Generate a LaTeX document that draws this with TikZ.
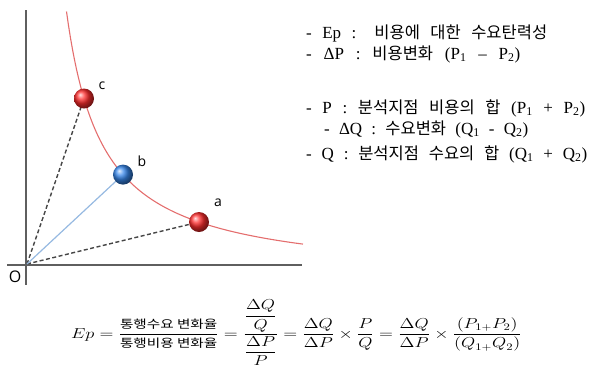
\documentclass[tikz,border=0pt]{standalone}
\usepackage[no-math]{fontspec}
\setmainfont{Liberation Serif}
\newfontfamily\kr{Noto Sans CJK KR}
\newfontfamily\lbl{Open Sans}
\usepackage{amsmath}
\usepackage{graphicx}
\usetikzlibrary{shadings}
\definecolor{curvered}{RGB}{228,110,110}
\definecolor{axisgray}{RGB}{95,95,95}
\definecolor{dashgray}{RGB}{70,70,70}
\definecolor{lineblue}{RGB}{150,185,225}
\definecolor{ballred}{RGB}{255,45,45}
\definecolor{ballblue}{RGB}{55,135,235}
\tikzset{
  ballnode/.style={circle, minimum size=20pt, inner sep=0pt, shading=ball},
  axisline/.style={axisgray, line width=2pt},
  dashline/.style={dashgray, line width=1.4pt, dash pattern=on 4pt off 2.5pt},
  soldline/.style={lineblue, line width=1.2pt},
  ptlabel/.style={font=\lbl\fontsize{14}{14}\selectfont, inner sep=0pt},
  legend/.style={anchor=base west, inner sep=0pt, font=\fontsize{17}{17}\selectfont},
}
\newcommand{\K}[1]{{\kr\fontsize{16.5}{16.5}\selectfont #1}}
\newcommand{\KF}[1]{\text{\kr\fontsize{11.5}{11.5}\selectfont #1}}
\begin{document}
\begin{tikzpicture}[x=1pt,y=-1pt]
\useasboundingbox (0,0) rectangle (591,372);
% axes
\draw[axisline] (26,10) -- (26,285);
\draw[axisline] (7,265) -- (302,265);
\coordinate (O) at (27,264);
\node[ptlabel, font=\lbl\fontsize{16}{16}\selectfont] (olab) at (15,277) {O};
% curve
\draw[curvered, line width=1.1pt] plot[domain=66.5:303, samples=120] (\x, {280 - 9800/(\x-30)});
% ball positions
\coordinate (cpos) at (84,{280-9800/54});
\coordinate (bpos) at (123,{280-9800/93});
\coordinate (apos) at (199,{280-9800/169});
\draw[dashline] (O) -- (cpos);
\draw[dashline] (O) -- (apos);
\draw[soldline] (O) -- (bpos);
\node[ballnode, ball color=ballred] (c) at (cpos) {};
\node[ballnode, ball color=ballblue] (b) at (bpos) {};
\node[ballnode, ball color=ballred] (a) at (apos) {};
\node[ptlabel] (clab) at (102,86) {c};
\node[ptlabel] (blab) at (142,161) {b};
\node[ptlabel] (alab) at (218,203) {a};
% legend
\node[legend] (l1) at (306,38) {\makebox[241pt][s]{- Ep : \K{비용에} \K{대한} \K{수요탄력성}}};
\node[legend] (l2) at (306,59) {\makebox[214pt][s]{- ΔP : \K{비용변화} (P\textsubscript{1} – P\textsubscript{2})}};
\node[legend] (l3) at (306,113) {\makebox[279pt][s]{- P : \K{분석지점} \K{비용의} \K{합} (P\textsubscript{1} + P\textsubscript{2})}};
\node[legend] (l4) at (324,134) {\makebox[204pt][s]{- ΔQ : \K{수요변화} (Q\textsubscript{1} - Q\textsubscript{2})}};
\node[legend] (l5) at (306,159) {\makebox[281pt][s]{- Q : \K{분석지점} \K{수요의} \K{합} (Q\textsubscript{1} + Q\textsubscript{2})}};
% formula
\node[anchor=east, inner sep=0pt] (f) at (522,333) {\scalebox{1.27}[1]{\fontsize{14.5}{14.5}\selectfont
$Ep=\dfrac{\KF{통행수요 변화율}}{\KF{통행비용 변화율}}
=\dfrac{\dfrac{\Delta Q}{Q}}{\dfrac{\Delta P}{P}}
=\dfrac{\Delta Q}{\Delta P}\times\dfrac{P}{Q}
=\dfrac{\Delta Q}{\Delta P}\times\dfrac{(P_{1+}P_2)}{(Q_{1+}Q_2)}$}};
\end{tikzpicture}
\end{document}
